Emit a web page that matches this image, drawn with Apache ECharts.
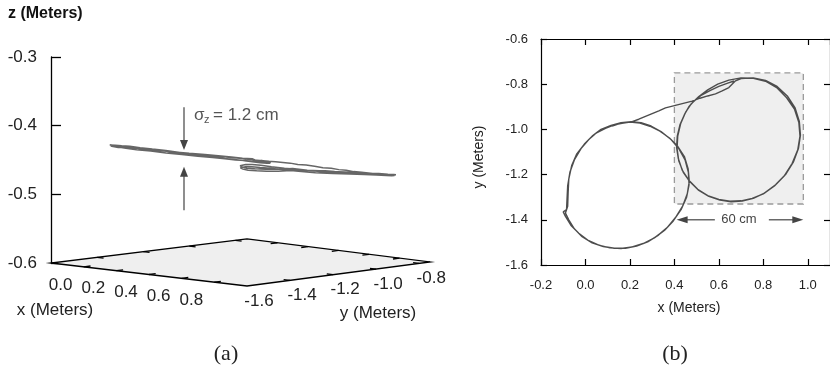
<!DOCTYPE html>
<html>
<head>
<meta charset="utf-8">
<script src="https://cdn.jsdelivr.net/npm/echarts@6/dist/echarts.min.js"></script>
<style>
  html, body { margin: 0; padding: 0; background: #fff; }
  #chart { width: 830px; height: 368px; }
</style>
</head>
<body>
<div id="chart"></div>
<script>
// trajectory (metres): hook, right loop x2, link, left loop x2
const trackX = [
  0.668, 0.64, 0.60, 0.56, 0.52, 0.49, 0.465, 0.445,
  0.425, 0.413, 0.41, 0.418, 0.435, 0.465, 0.505, 0.55, 0.60, 0.65, 0.70, 0.75, 0.80, 0.85, 0.895, 0.93, 0.955, 0.965, 0.96, 0.94, 0.905, 0.86, 0.81, 0.755, 0.70, 0.645, 0.595, 0.55, 0.51, 0.475, 0.45,
  0.428, 0.415, 0.412, 0.42, 0.44, 0.47, 0.51, 0.555, 0.605, 0.655, 0.705, 0.755, 0.805, 0.855, 0.9, 0.935, 0.958, 0.967, 0.962, 0.943, 0.908, 0.862, 0.81, 0.755, 0.70, 0.675,
  0.645, 0.615, 0.585, 0.55, 0.515, 0.48, 0.44, 0.40, 0.36, 0.33, 0.30, 0.27, 0.24, 0.21,
  0.17, 0.13, 0.09, 0.05, 0.015, -0.02, -0.05, -0.07, -0.08, -0.083, -0.085, -0.10, -0.09, -0.065, -0.03, 0.01, 0.06, 0.11, 0.16, 0.21, 0.26, 0.31, 0.355, 0.395, 0.43, 0.455, 0.466, 0.463, 0.448, 0.42, 0.385, 0.34, 0.295, 0.25, 0.205,
  0.16, 0.115, 0.07, 0.03, -0.005, -0.04, -0.062, -0.075, -0.078, -0.08, -0.09, -0.075, -0.05, -0.015, 0.03, 0.08, 0.13, 0.18, 0.23, 0.28, 0.325, 0.37, 0.405, 0.437, 0.458, 0.467, 0.462, 0.445, 0.415, 0.378, 0.335, 0.29, 0.245, 0.2, 0.15, 0.12
];
const trackY = [
  -0.786, -0.795, -0.81, -0.828, -0.85, -0.872, -0.90, -0.935,
  -0.98, -1.03, -1.08, -1.13, -1.18, -1.225, -1.265, -1.293, -1.31, -1.318, -1.316, -1.305, -1.285, -1.25, -1.205, -1.15, -1.09, -1.03, -0.97, -0.91, -0.86, -0.815, -0.787, -0.774, -0.772, -0.782, -0.80, -0.825, -0.855, -0.888, -0.925,
  -0.975, -1.03, -1.085, -1.14, -1.19, -1.232, -1.27, -1.296, -1.313, -1.32, -1.317, -1.305, -1.282, -1.245, -1.2, -1.145, -1.085, -1.025, -0.965, -0.905, -0.852, -0.81, -0.783, -0.772, -0.775, -0.785,
  -0.815, -0.83, -0.843, -0.852, -0.862, -0.875, -0.885, -0.895, -0.905, -0.918, -0.93, -0.942, -0.955, -0.966,
  -0.972, -0.98, -0.995, -1.015, -1.045, -1.085, -1.135, -1.19, -1.25, -1.31, -1.355, -1.365, -1.385, -1.425, -1.46, -1.49, -1.512, -1.524, -1.527, -1.52, -1.505, -1.48, -1.447, -1.405, -1.355, -1.3, -1.245, -1.19, -1.135, -1.085, -1.045, -1.01, -0.985, -0.97, -0.966,
  -0.97, -0.982, -1.0, -1.03, -1.065, -1.11, -1.16, -1.22, -1.28, -1.34, -1.37, -1.40, -1.44, -1.475, -1.502, -1.518, -1.526, -1.526, -1.516, -1.498, -1.47, -1.432, -1.39, -1.34, -1.285, -1.23, -1.175, -1.12, -1.075, -1.038, -1.008, -0.986, -0.972, -0.968, -0.975, -0.985
];
// height of each sample
const trackZ = [
  -0.472, -0.471, -0.470, -0.469, -0.468, -0.467, -0.467, -0.466,
  -0.466, -0.467, -0.467, -0.466, -0.465, -0.463, -0.461, -0.460, -0.459, -0.459, -0.460, -0.461, -0.463, -0.465, -0.467, -0.468, -0.469, -0.470, -0.471, -0.472, -0.473, -0.473, -0.473, -0.473, -0.472, -0.471, -0.470, -0.469, -0.468, -0.467, -0.466,
  -0.463, -0.464, -0.464, -0.463, -0.462, -0.460, -0.458, -0.457, -0.456, -0.456, -0.457, -0.459, -0.461, -0.463, -0.465, -0.467, -0.468, -0.469, -0.470, -0.471, -0.472, -0.472, -0.472, -0.472, -0.471, -0.471,
  -0.469, -0.468, -0.466, -0.465, -0.463, -0.462, -0.460, -0.458, -0.457, -0.455, -0.454, -0.453, -0.452, -0.451,
  -0.453, -0.451, -0.450, -0.448, -0.446, -0.444, -0.441, -0.439, -0.436, -0.434, -0.432, -0.431, -0.431, -0.430, -0.4295, -0.429, -0.430, -0.431, -0.432, -0.433, -0.435, -0.437, -0.440, -0.442, -0.445, -0.448, -0.450, -0.452, -0.454, -0.455, -0.455, -0.4555, -0.455, -0.455, -0.454,
  -0.448, -0.447, -0.445, -0.443, -0.441, -0.439, -0.437, -0.435, -0.433, -0.431, -0.430, -0.429, -0.428, -0.428, -0.428, -0.429, -0.430, -0.431, -0.433, -0.435, -0.437, -0.440, -0.442, -0.444, -0.446, -0.448, -0.450, -0.451, -0.452, -0.453, -0.454, -0.454, -0.4535, -0.453, -0.452, -0.451
];

// 3d box of panel (a)
const floorX = [-0.2, 1.0];
const floorY = [-1.6, -0.75];
const floorZ = -0.6;
const xTicks3d = [0.0, 0.2, 0.4, 0.6, 0.8];
const yTicks3d = [-1.6, -1.4, -1.2, -1.0, -0.8];

// shaded square and 60 cm span of panel (b)
const boxX = [0.4, 0.98];
const boxY = [-1.33, -0.75];
const spanX = [0.41, 0.98];
const spanY = -1.4;
const spanLabelX = 0.69;

const FONT = '"Liberation Sans", Arial, sans-serif';

// simple level-camera perspective: floor corners as seen on screen (grid 0 units)
const EYE_Z = -0.45;
const cornerH = [0, 196, 379, 196];              // (x0,y0) (x1,y0) (x1,y1) (x0,y1)
const cornerZ = [-0.6, -0.6335, -0.5985, -0.565];
function proj(x, y, z) {
  const u = (x - floorX[0]) / (floorX[1] - floorX[0]);
  const v = (y - floorY[0]) / (floorY[1] - floorY[0]);
  const w = [(1 - u) * (1 - v), u * (1 - v), u * v, (1 - u) * v];
  let h = 0, zf = 0;
  for (let i = 0; i < 4; i++) { h += w[i] * cornerH[i]; zf += w[i] * cornerZ[i]; }
  const zs = EYE_Z + (zf - EYE_Z) * (z - EYE_Z) / (floorZ - EYE_Z);
  return [h, zs];
}

const n = Math.min(trackX.length, trackY.length, trackZ.length);
const track2d = [], track3d = [];
for (let i = 0; i < n; i++) {
  track2d.push([trackX[i], trackY[i]]);
  track3d.push(proj(trackX[i], trackY[i], trackZ[i]));
}

function arrowHead(tip, dx, dy, len, half, color) {
  // dx,dy: unit vector pointing from the tail to the tip
  const bx = tip[0] - dx * len, by = tip[1] - dy * len;
  return {
    type: 'polygon',
    shape: { points: [tip, [bx - dy * half, by + dx * half], [bx + dy * half, by - dx * half]] },
    style: { fill: color }
  };
}

const chart = echarts.init(document.getElementById('chart'));

const axisLineBlack = { show: true, onZero: false, lineStyle: { color: '#000', width: 1.2 } };
const tickIn = { show: true, inside: true, length: 6, lineStyle: { color: '#000', width: 1.2 } };

const option = {
  animation: false,
  grid: [
    { left: 51, top: 57, width: 380, height: 206 },
    { left: 541, top: 39, width: 291, height: 226 }
  ],
  xAxis: [
    { gridIndex: 0, type: 'value', min: 0, max: 380, show: false },
    {
      gridIndex: 1, type: 'value', min: -0.2, max: 1.1, interval: 0.2, position: 'bottom',
      axisLine: axisLineBlack, axisTick: tickIn,
      axisLabel: { margin: 14, fontSize: 13, color: '#222', fontFamily: FONT, showMaxLabel: false,
        formatter: v => v.toFixed(1) },
      splitLine: { show: false }
    },
    {
      gridIndex: 1, type: 'value', min: -0.2, max: 1.1, interval: 0.2, position: 'top',
      axisLine: axisLineBlack, axisTick: tickIn,
      axisLabel: { show: false },
      splitLine: { show: false }
    }
  ],
  yAxis: [
    {
      gridIndex: 0, type: 'value', min: -0.6, max: -0.3, interval: 0.1,
      axisLine: { show: true, onZero: false, lineStyle: { color: '#000', width: 1.3 } },
      axisTick: { show: true, inside: true, length: 10, lineStyle: { color: '#000', width: 1.3 } },
      axisLabel: { margin: 14, fontSize: 17, color: '#222', fontFamily: FONT, formatter: v => v.toFixed(1) },
      splitLine: { show: false }
    },
    {
      gridIndex: 1, type: 'value', min: -1.6, max: -0.6, interval: 0.2,
      axisLine: axisLineBlack, axisTick: tickIn,
      axisLabel: { margin: 13, fontSize: 13, color: '#222', fontFamily: FONT, formatter: v => v.toFixed(1) },
      splitLine: { show: false }
    },
    {
      gridIndex: 1, type: 'value', min: -1.6, max: -0.6, interval: 0.2, position: 'right',
      axisLine: axisLineBlack, axisTick: tickIn,
      axisLabel: { show: false },
      splitLine: { show: false }
    }
  ],
  series: [
    // floor of the 3d box with ticks and labels
    {
      type: 'custom', xAxisIndex: 0, yAxisIndex: 0, z: 1, clip: false, silent: true,
      data: [0],
      renderItem: (params, api) => {
        const c = (x, y) => api.coord(proj(x, y, floorZ));
        const kids = [{
          type: 'polygon',
          shape: { points: [c(floorX[0], floorY[0]), c(floorX[1], floorY[0]), c(floorX[1], floorY[1]), c(floorX[0], floorY[1])] },
          style: { fill: '#efefef', stroke: '#000', lineWidth: 1.3 }
        }];
        const seg = (a, b) => ({ type: 'line', shape: { x1: a[0], y1: a[1], x2: b[0], y2: b[1] },
          style: { stroke: '#000', lineWidth: 1.3 } });
        xTicks3d.forEach(x => {
          kids.push(seg(c(x, floorY[0]), c(x, floorY[0] + 0.03)));
          kids.push(seg(c(x, floorY[1]), c(x, floorY[1] - 0.03)));
          const p = c(x, floorY[0]);
          kids.push({ type: 'text', style: { text: x.toFixed(1), x: p[0] - 23, y: p[1] + 18,
            align: 'center', verticalAlign: 'middle', textAlign: 'center', textVerticalAlign: 'middle',
            font: '17px ' + FONT, fill: '#222' } });
        });
        yTicks3d.forEach(y => {
          if (y > floorY[0] && y < floorY[1]) {
            kids.push(seg(c(floorX[0], y), c(floorX[0] + 0.04, y)));
            kids.push(seg(c(floorX[1], y), c(floorX[1] - 0.04, y)));
          }
          const p = c(floorX[1], y);
          kids.push({ type: 'text', style: { text: y.toFixed(1), x: p[0] + 12, y: p[1] + 15,
            align: 'center', verticalAlign: 'middle', textAlign: 'center', textVerticalAlign: 'middle',
            font: '17px ' + FONT, fill: '#222' } });
        });
        return { type: 'group', children: kids };
      }
    },
    {
      type: 'line', xAxisIndex: 0, yAxisIndex: 0, z: 3, clip: false, silent: true,
      data: track3d, showSymbol: false,
      lineStyle: { color: '#666', width: 1.5 }
    },
    // sigma_z annotation
    {
      type: 'custom', xAxisIndex: 0, yAxisIndex: 0, z: 4, clip: false, silent: true,
      data: [0],
      renderItem: (params, api) => {
        const col = '#444';
        const t1 = api.coord([133, -0.373]), h1 = api.coord([133, -0.4355]);
        const t2 = api.coord([133, -0.523]), h2 = api.coord([133, -0.460]);
        const tp = api.coord([143, -0.3846]);
        return { type: 'group', children: [
          { type: 'line', shape: { x1: t1[0], y1: t1[1], x2: h1[0], y2: h1[1] - 8 }, style: { stroke: col, lineWidth: 1.2 } },
          arrowHead(h1, 0, 1, 10, 4, col),
          { type: 'line', shape: { x1: t2[0], y1: t2[1], x2: h2[0], y2: h2[1] + 8 }, style: { stroke: col, lineWidth: 1.2 } },
          arrowHead(h2, 0, -1, 10, 4, col),
          { type: 'text', style: { text: 'σ', x: tp[0], y: tp[1], verticalAlign: 'middle', textVerticalAlign: 'middle', font: '17px ' + FONT, fill: '#555' } },
          { type: 'text', style: { text: 'z', x: tp[0] + 10, y: tp[1] + 5, verticalAlign: 'middle', textVerticalAlign: 'middle', font: '11px ' + FONT, fill: '#555' } },
          { type: 'text', style: { text: '= 1.2 cm', x: tp[0] + 19, y: tp[1], verticalAlign: 'middle', textVerticalAlign: 'middle', font: '17px ' + FONT, fill: '#555' } }
        ] };
      }
    },
    // shaded square
    {
      type: 'custom', xAxisIndex: 1, yAxisIndex: 1, z: 1, silent: true,
      data: [0],
      renderItem: (params, api) => {
        const a = api.coord([boxX[0], boxY[1]]), b = api.coord([boxX[1], boxY[0]]);
        return { type: 'rect', shape: { x: a[0], y: a[1], width: b[0] - a[0], height: b[1] - a[1] },
          style: { fill: '#efefef', stroke: '#9a9a9a', lineWidth: 1.3, lineDash: [6, 4] } };
      }
    },
    {
      type: 'line', xAxisIndex: 1, yAxisIndex: 1, z: 3, silent: true,
      data: track2d, showSymbol: false,
      lineStyle: { color: '#4d4d4d', width: 1.4 }
    },
    // 60 cm span
    {
      type: 'custom', xAxisIndex: 1, yAxisIndex: 1, z: 4, silent: true,
      data: [0],
      renderItem: (params, api) => {
        const col = '#444';
        const l = api.coord([spanX[0], spanY]), r = api.coord([spanX[1], spanY]);
        const m = api.coord([spanLabelX, spanY]);
        return { type: 'group', children: [
          { type: 'line', shape: { x1: l[0] + 8, y1: l[1], x2: m[0] - 24, y2: m[1] }, style: { stroke: col, lineWidth: 1.2 } },
          arrowHead(l, -1, 0, 11, 3.5, col),
          { type: 'line', shape: { x1: m[0] + 30, y1: m[1], x2: r[0] - 8, y2: r[1] }, style: { stroke: col, lineWidth: 1.2 } },
          arrowHead(r, 1, 0, 11, 3.5, col),
          { type: 'text', style: { text: '60 cm', x: m[0], y: m[1], align: 'center', verticalAlign: 'middle',
            textAlign: 'center', textVerticalAlign: 'middle', font: '13px ' + FONT, fill: '#444' } }
        ] };
      }
    }
  ],
  graphic: [
    { type: 'text', left: 8, top: 6, style: { text: 'z (Meters)', font: 'bold 16px ' + FONT, fill: '#111' } },
    { type: 'text', x: 55, y: 310, style: { text: 'x (Meters)', align: 'center', verticalAlign: 'middle',
      textAlign: 'center', textVerticalAlign: 'middle', font: '17px ' + FONT, fill: '#222' } },
    { type: 'text', x: 378, y: 313, style: { text: 'y (Meters)', align: 'center', verticalAlign: 'middle',
      textAlign: 'center', textVerticalAlign: 'middle', font: '17px ' + FONT, fill: '#222' } },
    { type: 'text', x: 689, y: 308, style: { text: 'x (Meters)', align: 'center', verticalAlign: 'middle',
      textAlign: 'center', textVerticalAlign: 'middle', font: '14px ' + FONT, fill: '#222' } },
    { type: 'text', x: 479, y: 157, rotation: Math.PI / 2, style: { text: 'y (Meters)', align: 'center', verticalAlign: 'middle',
      textAlign: 'center', textVerticalAlign: 'middle', font: '14px ' + FONT, fill: '#222' } },
    { type: 'text', x: 226, y: 354, style: { text: '(a)', align: 'center', verticalAlign: 'middle',
      textAlign: 'center', textVerticalAlign: 'middle', font: '22px "Liberation Serif", serif', fill: '#222' } },
    { type: 'text', x: 675, y: 354, style: { text: '(b)', align: 'center', verticalAlign: 'middle',
      textAlign: 'center', textVerticalAlign: 'middle', font: '22px "Liberation Serif", serif', fill: '#222' } }
  ]
};

chart.setOption(option);
</script>
</body>
</html>
